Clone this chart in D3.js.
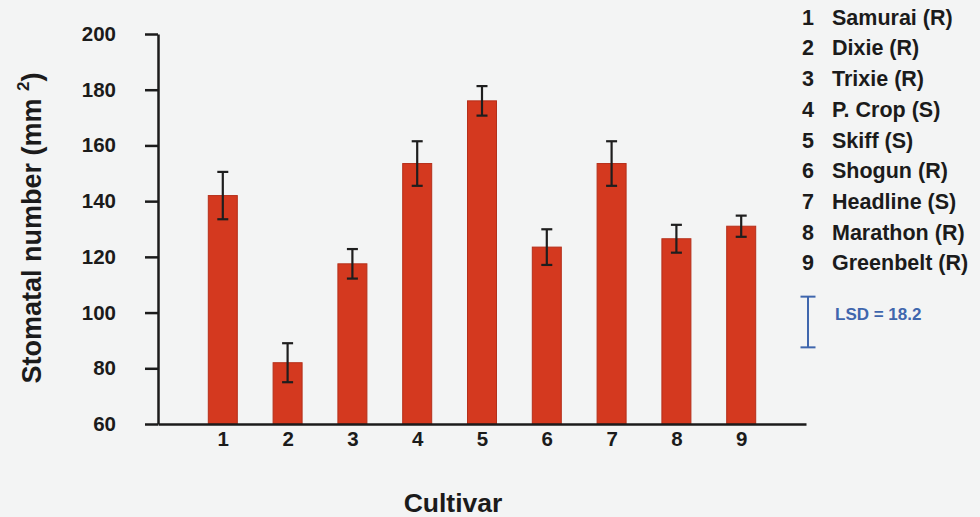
<!DOCTYPE html>
<html>
<head>
<meta charset="utf-8">
<script src="https://cdn.jsdelivr.net/npm/d3@7/dist/d3.min.js"></script>
<style>
  html, body { margin: 0; padding: 0; background: #f3f4f4; }
  svg { display: block; font-family: "Liberation Sans", Arial, sans-serif; font-weight: bold; }
</style>
</head>
<body>
<svg id="chart" width="980" height="517"></svg>
<script>
// Cultivar index, mean stomatal number and standard error
const cultivars = [1, 2, 3, 4, 5, 6, 7, 8, 9];
const stomata = [142, 82, 117.5, 153.5, 176, 123.5, 153.5, 126.5, 131];
const errors = [8.5, 7, 5.3, 8, 5.3, 6.4, 8, 5, 3.8];
const cultivarNames = [
  "Samurai (R)", "Dixie (R)", "Trixie (R)", "P. Crop (S)", "Skiff (S)",
  "Shogun (R)", "Headline (S)", "Marathon (R)", "Greenbelt (R)"
];
const yTicks = [60, 80, 100, 120, 140, 160, 180, 200];
const lsdValue = 18.2;

const svg = d3.select("#chart");

const x = d3.scaleLinear().domain([0, 10]).range([158, 806]);
const y = d3.scaleLinear().domain([60, 200]).range([424, 34]);
const barW = 29;
const ink = "#1b1b1b";

// Bars
svg.append("g").selectAll("rect")
  .data(cultivars)
  .join("rect")
  .attr("x", (d) => x(d) - barW / 2)
  .attr("y", (d, i) => y(stomata[i]))
  .attr("width", barW)
  .attr("height", (d, i) => y(60) - y(stomata[i]))
  .attr("fill", "#d4391f")
  .attr("stroke", "#b52f1a")
  .attr("stroke-width", 1);

// Error bars
const eb = svg.append("g").attr("stroke", "#1e1e1e").attr("stroke-width", 2.2);
cultivars.forEach((c, i) => {
  const cx = x(c);
  const top = y(stomata[i] + errors[i]);
  const bot = y(stomata[i] - errors[i]);
  eb.append("line").attr("x1", cx).attr("x2", cx).attr("y1", top).attr("y2", bot);
  eb.append("line").attr("x1", cx - 5.5).attr("x2", cx + 5.5).attr("y1", top).attr("y2", top);
  eb.append("line").attr("x1", cx - 5.5).attr("x2", cx + 5.5).attr("y1", bot).attr("y2", bot);
});

// Y axis
const yAxis = svg.append("g")
  .attr("transform", `translate(${x(0)},0)`)
  .call(d3.axisLeft(y).tickValues(yTicks).tickSize(13).tickSizeOuter(0).tickPadding(29));
yAxis.select(".domain").attr("stroke", ink).attr("stroke-width", 2.5);
yAxis.selectAll(".tick line").attr("stroke", ink).attr("stroke-width", 2.5);
yAxis.selectAll(".tick text")
  .attr("fill", ink)
  .style("font-size", "20.5px")
  .style("font-family", "'Liberation Sans', Arial, sans-serif")
  .style("font-weight", "bold");

// X axis
const xAxis = svg.append("g")
  .attr("transform", `translate(0,${y(60)})`)
  .call(d3.axisBottom(x).tickValues(cultivars).tickFormat(d3.format("d"))
    .tickSize(0).tickSizeOuter(0).tickPadding(7));
xAxis.select(".domain").attr("stroke", ink).attr("stroke-width", 2.5);
xAxis.selectAll(".tick text")
  .attr("fill", ink)
  .style("font-size", "20.5px")
  .style("font-family", "'Liberation Sans', Arial, sans-serif")
  .style("font-weight", "bold");

// Axis titles
svg.append("text")
  .attr("x", 453).attr("y", 512)
  .attr("text-anchor", "middle")
  .attr("fill", ink)
  .style("font-size", "26.5px")
  .text("Cultivar");

const yTitle = svg.append("text")
  .attr("transform", "translate(41,228) rotate(-90)")
  .attr("text-anchor", "middle")
  .attr("fill", ink)
  .style("font-size", "27px");
yTitle.append("tspan").text("Stomatal number (mm ");
yTitle.append("tspan").attr("dy", -12).style("font-size", "17px").text("2");
yTitle.append("tspan").attr("dy", 12).text(")");

// Cultivar key
const key = svg.append("g").attr("fill", ink).style("font-size", "21.5px");
cultivars.forEach((c, i) => {
  const cy = 17 + i * 30.7;
  key.append("text").attr("x", 802).attr("y", cy).attr("dy", "0.36em").text(c);
  key.append("text").attr("x", 832).attr("y", cy).attr("dy", "0.36em").text(cultivarNames[i]);
});

// LSD indicator, drawn on the same y scale
const lsdBlue = "#3f66ad";
const lsdMid = 322;
const lsdHalf = (y(60) - y(60 + lsdValue)) / 2;
const lsd = svg.append("g").attr("stroke", lsdBlue).attr("stroke-width", 2);
lsd.append("line").attr("x1", 808).attr("x2", 808).attr("y1", lsdMid - lsdHalf).attr("y2", lsdMid + lsdHalf);
lsd.append("line").attr("x1", 800.5).attr("x2", 815.5).attr("y1", lsdMid - lsdHalf).attr("y2", lsdMid - lsdHalf);
lsd.append("line").attr("x1", 800.5).attr("x2", 815.5).attr("y1", lsdMid + lsdHalf).attr("y2", lsdMid + lsdHalf);
svg.append("text")
  .attr("x", 835).attr("y", 314).attr("dy", "0.36em")
  .attr("fill", lsdBlue)
  .style("font-size", "17px")
  .text(`LSD = ${lsdValue}`);
</script>
</body>
</html>
